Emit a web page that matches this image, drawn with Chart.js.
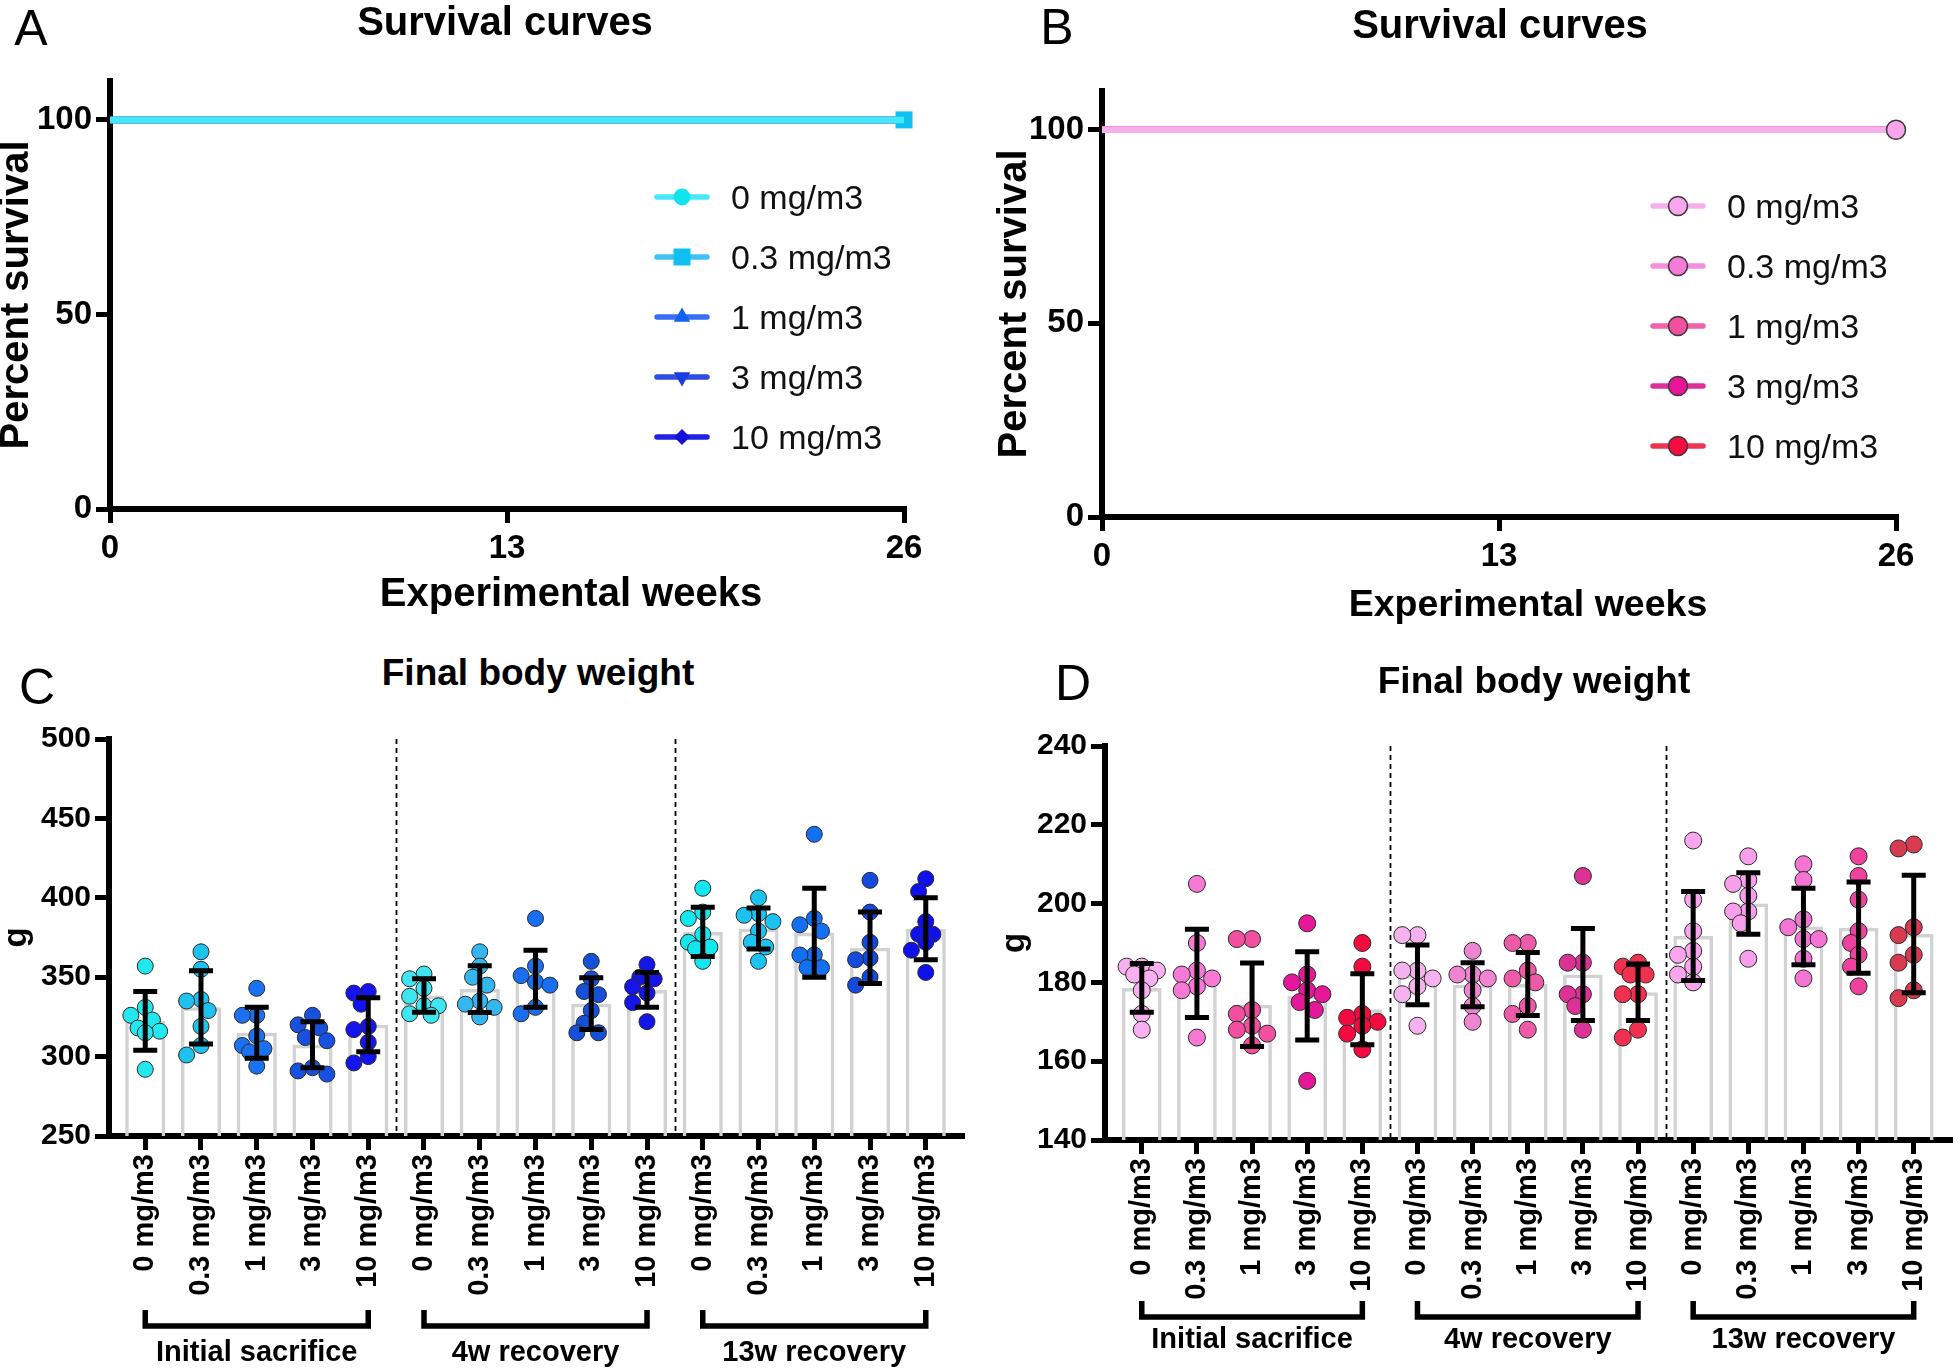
<!DOCTYPE html>
<html>
<head>
<meta charset="utf-8">
<script src="https://cdn.jsdelivr.net/npm/chart.js@4.4.1/dist/chart.umd.min.js"></script>
<style>
body { margin: 0; background: #fff; }
#page { position: relative; width: 1960px; height: 1370px; overflow: hidden; font-family: 'Liberation Sans', Arial, Helvetica, sans-serif; color: #000; }
.plot { position: absolute; }
.txt { position: absolute; transform: translate(-50%, -50%); white-space: nowrap; line-height: 1; }
.letter { font-size: 50px; }
.title { font-size: 40px; font-weight: bold; }
.title2 { font-size: 37px; font-weight: bold; }
</style>
</head>
<body>
<div id="page">
  <canvas id="survivalMalePlot" class="plot" width="980" height="640" style="left:0px;top:0px"></canvas>
  <canvas id="survivalFemalePlot" class="plot" width="980" height="640" style="left:980px;top:0px"></canvas>
  <canvas id="weightMalePlot" class="plot" width="980" height="670" style="left:0px;top:700px"></canvas>
  <canvas id="weightFemalePlot" class="plot" width="980" height="670" style="left:980px;top:700px"></canvas>

  <div class="txt letter" style="left:31px;top:28px">A</div>
  <div class="txt letter" style="left:1057px;top:27px">B</div>
  <div class="txt letter" style="left:37px;top:687px">C</div>
  <div class="txt letter" style="left:1073px;top:683px">D</div>

  <div class="txt title" style="left:505px;top:21px">Survival curves</div>
  <div class="txt title" style="left:1500px;top:24px">Survival curves</div>
  <div class="txt title2" style="left:538px;top:672px">Final body weight</div>
  <div class="txt title2" style="left:1534px;top:680px">Final body weight</div>

  <div class="txt title" style="left:571px;top:592px">Experimental weeks</div>
  <div class="txt title" style="left:1528px;top:604px;font-size:37.5px">Experimental weeks</div>
</div>
<script>
Chart.defaults.font.family = "'Liberation Sans', Arial, Helvetica, sans-serif";
Chart.defaults.color = '#000';

// Survival
var survivalWeeks = [0, 26];
var weekTicks = [0, 13, 26];
var percentTicks = [0, 50, 100];
var doseLabels = ['0 mg/m3', '0.3 mg/m3', '1 mg/m3', '3 mg/m3', '10 mg/m3'];
var groupLabels = ['Initial sacrifice', '4w recovery', '13w recovery'];

// percent survival at week 0 and week 26, one row per dose
var survivalMale = [[100, 100], [100, 100], [100, 100], [100, 100], [100, 100]];
var survivalFemale = [[100, 100], [100, 100], [100, 100], [100, 100], [100, 100]];

// Final body weight (g), 5 doses x 3 sacrifice groups
var weightTicksMale = [250, 300, 350, 400, 450, 500];
var weightTicksFemale = [140, 160, 180, 200, 220, 240];

var weightsMale = [
    [357, 331, 326, 323, 318, 316, 315, 292],
    [366, 355, 336, 335, 329, 319, 307, 301],
    [343, 326, 326, 313, 307, 305, 303, 294],
    [326, 320, 318, 312, 310, 293, 291, 289],
    [341, 340, 333, 319, 317, 309, 300, 296],
    [352, 349, 343, 338, 332, 332, 327, 326],
    [366, 357, 350, 345, 335, 333, 331, 325],
    [387, 357, 351, 347, 345, 331, 327],
    [360, 349, 341, 339, 329, 321, 315, 315],
    [358, 350, 349, 344, 340, 334, 322],
    [406, 391, 387, 377, 372, 369, 368, 360],
    [400, 390, 389, 385, 379, 372, 369, 360],
    [440, 387, 383, 379, 364, 364, 356, 356],
    [411, 391, 372, 362, 361, 350, 345],
    [412, 404, 385, 377, 377, 372, 367, 353]
];
var meanMale = [322.5, 331, 315, 307.5, 320, 338.5, 342.5, 349, 333.3, 342, 378.5, 380.6, 378, 368.5, 380.5];
var sdMale = [18.5, 23, 16, 14.5, 17, 10.5, 14.7, 18, 16.3, 11, 15.5, 12.9, 28, 22.5, 19.5];

var weightsFemale = [
    [184, 184, 183, 182, 181, 178, 172, 168],
    [205, 190, 183, 182, 181, 179, 178, 166],
    [191, 191, 173, 172, 169, 168, 167, 164],
    [195, 182, 180, 178, 177, 175, 173, 155],
    [190, 184, 172, 171, 170, 169, 167, 163],
    [192, 192, 183, 183, 181, 179, 177, 169],
    [188, 182, 182, 181, 178, 174, 170],
    [190, 190, 183, 181, 180, 174, 172, 168],
    [207, 185, 185, 177, 177, 174, 168],
    [185, 184, 182, 182, 177, 177, 168, 166],
    [216, 201, 193, 188, 187, 184, 182, 180],
    [212, 206, 205, 202, 198, 198, 195, 186],
    [210, 206, 196, 194, 191, 191, 186, 181],
    [212, 207, 201, 193, 190, 187, 184, 179],
    [215, 214, 194, 192, 187, 185, 178, 176]
];
var meanFemale = [178.6, 182.3, 174.3, 176.6, 173.2, 181.9, 179.4, 179.6, 182, 177.5, 191.8, 200, 194.2, 193.9, 192.3];
var sdFemale = [6.2, 11.2, 10.6, 11.2, 9, 7.6, 5.6, 8, 11.7, 7.2, 11.3, 7.8, 9.7, 11.6, 14.9];

// Colours
var maleStyle = {
    line: ['#45e8f6', '#40c3f3', '#3a6ef2', '#2f4ce3', '#2222e0'],
    fill: ['#12e4ef', '#0fbff2', '#1262f2', '#1a3be0', '#1111d8'],
    marker: ['circle', 'rect', 'triangle', 'triangle', 'rectRot'],
    rotation: [0, 0, 0, 180, 0],
    size: [8.5, 12, 9.5, 9.5, 8],
    endMarker: [false, true, false, false, false],
    border: 'rgba(0,0,0,0)',
    borderWidth: 0
};
var femaleStyle = {
    line: ['#f7aeed', '#f58fdc', '#f062a9', '#de2f98', '#ef3350'],
    fill: ['#f9a6ef', '#f67bd6', '#f24f9f', '#e91596', '#f50c40'],
    marker: ['circle', 'circle', 'circle', 'circle', 'circle'],
    rotation: [0, 0, 0, 0, 0],
    size: [9.5, 9.5, 9.5, 9.5, 9.5],
    endMarker: [true, false, false, false, false],
    border: '#3a3a3a',
    borderWidth: 1.5
};
var maleDotColors = [
    '#22e7ee', '#1fc1ef', '#1a72f2', '#1850e0', '#1414ee',
    '#3fe5f0', '#33b7ee', '#1a6ef0', '#1650d8', '#1515e8',
    '#12e6ef', '#1cc2f0', '#1470f2', '#1548dd', '#1010ee'
];
var femaleDotColors = [
    '#f9b0f0', '#f67ad5', '#f24fa0', '#e6189a', '#f50a40',
    '#f6b2ee', '#ee84d2', '#ec5aa8', '#dc3296', '#f0304f',
    '#f9a6ef', '#f89fec', '#f474d4', '#f0419e', '#d83a50'
];

var axisGrid = {display: true, drawOnChartArea: false, drawTicks: true, tickLength: 14, lineWidth: 5, tickWidth: 5, color: '#000', tickColor: '#000', offset: false};
var axisBorder = {display: true, color: '#000', width: 6};

// Plugins
var doseLegend = {
    id: 'doseLegend',
    afterDraw: function(chart, args, opts) {
        var ctx = chart.ctx;
        ctx.save();
        chart.data.datasets.forEach(function(ds, i) {
            var y = opts.top + i * opts.gap;
            var cx = opts.left + opts.length / 2;
            ctx.strokeStyle = ds.borderColor;
            ctx.lineWidth = 5.5;
            ctx.lineCap = 'round';
            ctx.beginPath();
            ctx.moveTo(opts.left, y);
            ctx.lineTo(opts.left + opts.length, y);
            ctx.stroke();

            ctx.fillStyle = ds.pointBackgroundColor;
            ctx.strokeStyle = ds.pointBorderColor;
            ctx.lineWidth = ds.pointBorderWidth;
            if (Chart.helpers && Chart.helpers.drawPoint) {
                Chart.helpers.drawPoint(ctx, {
                    pointStyle: ds.pointStyle,
                    rotation: ds.pointRotation,
                    radius: ds.legendRadius,
                    borderWidth: ds.pointBorderWidth
                }, cx, y);
            } else {
                ctx.beginPath();
                ctx.arc(cx, y, ds.legendRadius, 0, Math.PI * 2);
                ctx.fill();
            }

            ctx.fillStyle = '#111';
            ctx.font = "34px 'Liberation Sans', Arial, sans-serif";
            ctx.textBaseline = 'middle';
            ctx.textAlign = 'left';
            ctx.fillText(ds.label, opts.textLeft, y + 3);
        });
        ctx.restore();
    }
};

var errorBars = {
    id: 'errorBars',
    afterDatasetsDraw: function(chart, args, opts) {
        var xs = chart.scales.x, ys = chart.scales.y, ctx = chart.ctx;
        ctx.save();
        ctx.strokeStyle = '#000';
        ctx.lineWidth = 5;
        ctx.lineCap = 'butt';
        opts.means.forEach(function(m, i) {
            var px = xs.getPixelForValue(i);
            var top = ys.getPixelForValue(m + opts.sds[i]);
            var bot = ys.getPixelForValue(m - opts.sds[i]);
            ctx.beginPath();
            ctx.moveTo(px, top);
            ctx.lineTo(px, bot);
            ctx.moveTo(px - 12, top);
            ctx.lineTo(px + 12, top);
            ctx.moveTo(px - 12, bot);
            ctx.lineTo(px + 12, bot);
            ctx.stroke();
        });
        ctx.restore();
    }
};

var groupBrackets = {
    id: 'groupBrackets',
    afterDraw: function(chart, args, opts) {
        var xs = chart.scales.x, area = chart.chartArea, ctx = chart.ctx;
        var n = doseLabels.length;
        ctx.save();
        // dashed separators between sacrifice groups
        ctx.strokeStyle = '#000';
        ctx.setLineDash([5, 4]);
        ctx.lineWidth = 1.8;
        for (var g = 1; g < groupLabels.length; g++) {
            var sx = Math.round(xs.getPixelForValue(g * n - 0.5)) + 0.5;
            ctx.beginPath();
            ctx.moveTo(sx, area.top);
            ctx.lineTo(sx, area.bottom);
            ctx.stroke();
        }
        ctx.setLineDash([]);

        ctx.lineWidth = 5.5;
        ctx.lineJoin = 'miter';
        ctx.fillStyle = '#000';
        ctx.font = "bold 29px 'Liberation Sans', Arial, sans-serif";
        ctx.textAlign = 'center';
        ctx.textBaseline = 'middle';
        groupLabels.forEach(function(label, g) {
            var x0 = xs.getPixelForValue(g * n);
            var x1 = xs.getPixelForValue(g * n + n - 1);
            var by = area.bottom + opts.bracketY;
            ctx.beginPath();
            ctx.moveTo(x0, by - 16);
            ctx.lineTo(x0, by);
            ctx.lineTo(x1, by);
            ctx.lineTo(x1, by - 16);
            ctx.stroke();
            ctx.fillText(label, (x0 + x1) / 2, area.bottom + opts.labelY);
        });
        ctx.restore();
    }
};

function _survivalChart(canvasId, box, series, style, legendPos, titleOpts)
{
    var canvas = document.getElementById(canvasId);
    var W = canvas.width, H = canvas.height;
    var last = survivalWeeks.length - 1;

    var datasets = series.map(function(values, i) {
        return {
            label: doseLabels[i],
            data: survivalWeeks.map(function(w, j) { return {x: w, y: values[j]}; }),
            showLine: true,
            borderColor: style.line[i],
            borderWidth: 6.5,
            pointStyle: style.marker[i],
            pointRotation: style.rotation[i],
            pointBackgroundColor: style.fill[i],
            pointBorderColor: style.border,
            pointBorderWidth: style.borderWidth,
            pointRadius: survivalWeeks.map(function(w, j) {
                return (j == last && style.endMarker[i]) ? style.size[i] : 0;
            }),
            legendRadius: style.size[i],
            clip: false
        };
    });

    return new Chart(canvas, {
        type: 'scatter',
        data: {datasets: datasets},
        options: {
            responsive: false,
            animation: false,
            events: [],
            layout: {padding: {left: 0, top: box.top, right: W - box.right, bottom: 0}},
            plugins: {
                legend: {display: false},
                tooltip: {enabled: false},
                doseLegend: legendPos
            },
            scales: {
                x: {
                    type: 'linear',
                    min: weekTicks[0],
                    max: weekTicks[weekTicks.length - 1],
                    afterBuildTicks: function(axis) {
                        axis.ticks = weekTicks.map(function(v) { return {value: v}; });
                    },
                    afterFit: function(axis) { axis.height = H - box.bottom; },
                    grid: axisGrid,
                    border: axisBorder,
                    ticks: {padding: 6, maxRotation: 0, font: {size: 33, weight: 'bold'}}
                },
                y: {
                    type: 'linear',
                    min: 0,
                    max: 110,
                    afterBuildTicks: function(axis) {
                        axis.ticks = percentTicks.map(function(v) { return {value: v}; });
                    },
                    afterFit: function(axis) { axis.width = box.left; },
                    grid: axisGrid,
                    border: axisBorder,
                    ticks: {padding: 4, font: {size: 33, weight: 'bold'}},
                    title: {
                        display: true,
                        text: 'Percent survival',
                        font: {size: 40, weight: 'bold', lineHeight: 1},
                        padding: titleOpts
                    }
                }
            }
        },
        plugins: [doseLegend]
    });
}

// simple beeswarm: spread points sideways where they would overlap
function _swarm(values, center, pxX, pxY, diam)
{
    var order = values.map(function(v, i) { return i; });
    order.sort(function(a, b) { return values[b] - values[a]; });
    var placed = [];
    var out = [];
    var step = diam * 0.45;
    var cands = [0, -1, 1, -2, 2];
    order.forEach(function(i) {
        var best = 0, bestDist = -1;
        for (var c = 0; c < cands.length; c++) {
            var dx = cands[c] * step;
            var minDist = Infinity;
            placed.forEach(function(p) {
                var ddx = dx - p.dx, ddy = (values[i] - p.v) * pxY;
                minDist = Math.min(minDist, Math.sqrt(ddx * ddx + ddy * ddy));
            });
            if (minDist >= diam * 0.8) { best = dx; bestDist = minDist; break; }
            if (minDist > bestDist) { best = dx; bestDist = minDist; }
        }
        placed.push({dx: best, v: values[i]});
        out.push({x: center + best / pxX, y: values[i]});
    });
    return out;
}

function _weightChart(canvasId, box, edge, weights, means, sds, yTicks, colors, dotRadius, yTickSize, gPad, bracket)
{
    var canvas = document.getElementById(canvasId);
    var W = canvas.width, H = canvas.height;
    var nCat = weights.length;
    var xMin = -edge, xMax = nCat - 1 + edge;
    var yMin = yTicks[0], yMax = yTicks[yTicks.length - 1];
    var pxX = (box.right - box.left) / (xMax - xMin);
    var pxY = (box.bottom - box.top) / (yMax - yMin);

    var datasets = [{
        type: 'bar',
        data: means.map(function(m, i) { return {x: i, y: m}; }),
        backgroundColor: 'rgba(255,255,255,0)',
        borderColor: '#d2d2d2',
        borderWidth: 3.5,
        barPercentage: 0.72,
        categoryPercentage: 1,
        order: 2
    }];
    weights.forEach(function(values, i) {
        datasets.push({
            type: 'scatter',
            data: _swarm(values, i, pxX, pxY, dotRadius * 2),
            pointRadius: dotRadius,
            pointBackgroundColor: colors[i],
            pointBorderColor: '#2a2a2a',
            pointBorderWidth: 1,
            order: 1,
            clip: false
        });
    });

    return new Chart(canvas, {
        type: 'scatter',
        data: {datasets: datasets},
        options: {
            responsive: false,
            animation: false,
            events: [],
            layout: {padding: {left: 0, top: box.top, right: W - box.right, bottom: 0}},
            plugins: {
                legend: {display: false},
                tooltip: {enabled: false},
                errorBars: {means: means, sds: sds},
                groupBrackets: bracket
            },
            scales: {
                x: {
                    type: 'linear',
                    offset: false,
                    min: xMin,
                    max: xMax,
                    afterBuildTicks: function(axis) {
                        axis.ticks = weights.map(function(w, i) { return {value: i}; });
                    },
                    afterFit: function(axis) { axis.height = H - box.bottom; },
                    grid: axisGrid,
                    border: axisBorder,
                    ticks: {
                        autoSkip: false,
                        minRotation: 90,
                        maxRotation: 90,
                        padding: 4,
                        font: {size: 29, weight: 'bold'},
                        callback: function(v) { return doseLabels[Math.round(v) % doseLabels.length]; }
                    }
                },
                y: {
                    type: 'linear',
                    min: yMin,
                    max: yMax,
                    afterBuildTicks: function(axis) {
                        axis.ticks = yTicks.map(function(v) { return {value: v}; });
                    },
                    afterFit: function(axis) { axis.width = box.left; },
                    grid: axisGrid,
                    border: axisBorder,
                    ticks: {padding: 4, font: {size: yTickSize, weight: 'bold'}},
                    title: {
                        display: true,
                        text: 'g',
                        font: {size: 33, weight: 'bold', lineHeight: 1},
                        padding: gPad
                    }
                }
            }
        },
        plugins: [errorBars, groupBrackets]
    });
}

_survivalChart('survivalMalePlot', {left: 110, top: 81, right: 904, bottom: 509},
    survivalMale, maleStyle,
    {left: 657, length: 50, top: 197, gap: 60, textLeft: 731},
    {top: -3, bottom: 0});

_survivalChart('survivalFemalePlot', {left: 122, top: 91, right: 916, bottom: 517},
    survivalFemale, femaleStyle,
    {left: 673, length: 50, top: 206, gap: 60, textLeft: 747},
    {top: 15, bottom: 0});

_weightChart('weightMalePlot', {left: 109, top: 39, right: 962, bottom: 436}, 0.65,
    weightsMale, meanMale, sdMale, weightTicksMale, maleDotColors, 8, 30,
    {top: 0, bottom: 0}, {bracketY: 190, labelY: 217});

_weightChart('weightFemalePlot', {left: 125, top: 46, right: 976, bottom: 440}, 0.667,
    weightsFemale, meanFemale, sdFemale, weightTicksFemale, femaleDotColors, 8.5, 30,
    {top: 18, bottom: 0}, {bracketY: 177, labelY: 200});
</script>
</body>
</html>
